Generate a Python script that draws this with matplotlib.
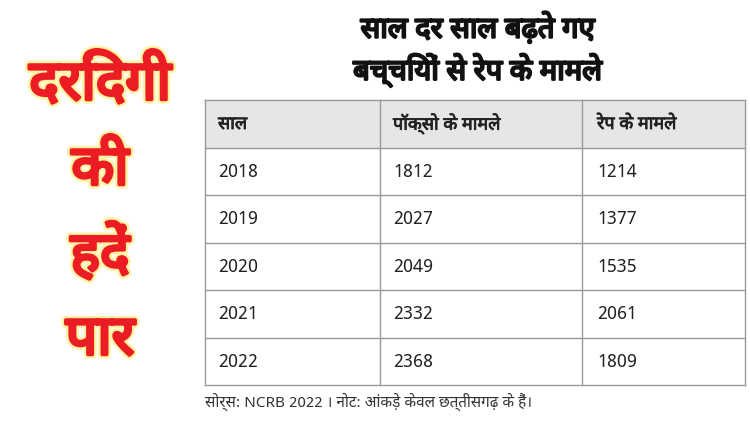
import matplotlib.pyplot as plt
import matplotlib.patheffects as pe
from matplotlib import font_manager

years = ["2018", "2019", "2020", "2021", "2022"]
pocso_cases = [1812, 2027, 2049, 2332, 2368]
rape_cases = [1214, 1377, 1535, 2061, 1809]
headers = ["साल", "पॉक्सो के मामले", "रेप के मामले"]
title = "साल दर साल बढ़ते गए\nबच्चियों से रेप के मामले"
side_words = ["दरिंदगी", "की", "हदें", "पार"]
source = "सोर्स: NCRB 2022 । नोट: आंकड़े केवल छत्तीसगढ़ के हैं।"

names = {f.name for f in font_manager.fontManager.ttflist}
fams = [n for n in ["Noto Sans Devanagari", "Lohit Devanagari", "FreeSans", "Noto Sans", "DejaVu Sans"] if n in names]
plt.rcParams["font.family"] = fams

fig = plt.figure(figsize=(7.5, 4.23), dpi=100)
ax = fig.add_axes([0, 0, 1, 1])
ax.set_xlim(0, 750)
ax.set_ylim(423, 0)
ax.axis("off")

# left red heading, thick fill with a pale yellow edge
for i, w in enumerate(side_words):
    ax.text(100, 85 + i * 85, w, color="#ec1c24", fontsize=40, fontweight="bold",
            ha="center", va="center",
            path_effects=[pe.withStroke(linewidth=6, foreground="#fff2a0"),
                          pe.withStroke(linewidth=2.5, foreground="#ec1c24")])

ax.text(478, 50, title, fontsize=21, fontweight="bold", ha="center", va="center",
        linespacing=1.35, color="#111111",
        path_effects=[pe.withStroke(linewidth=1.6, foreground="#111111")])

# table
x0, x1 = 205, 745
cols = [205, 380, 582, 745]
top, head_h, row_h = 100, 48, 47.5
ax.add_patch(plt.Rectangle((x0, top), x1 - x0, head_h, color="#e6e6e6", zorder=0))
ys = [top, top + head_h] + [top + head_h + row_h * (i + 1) for i in range(len(years))]
for y in ys:
    ax.plot([x0, x1], [y, y], color="#9a9a9a", lw=1)
for x in cols:
    ax.plot([x, x], [ys[0], ys[-1]], color="#9a9a9a", lw=1)

tx = [218, 393, 597]
for j, h in enumerate(headers):
    ax.text(tx[j], top + head_h / 2, h, fontsize=13, fontweight="bold", va="center", color="#222222",
            path_effects=[pe.withStroke(linewidth=0.6, foreground="#222222")])
for i in range(len(years)):
    yc = top + head_h + row_h * i + row_h / 2
    for j, v in enumerate([years[i], pocso_cases[i], rape_cases[i]]):
        ax.text(tx[j], yc, str(v), fontsize=13, va="center", color="#222222")

ax.text(205, 402, source, fontsize=11, style="italic", va="center", color="#333333")

fig.savefig("out.png", dpi=100, facecolor="white")
